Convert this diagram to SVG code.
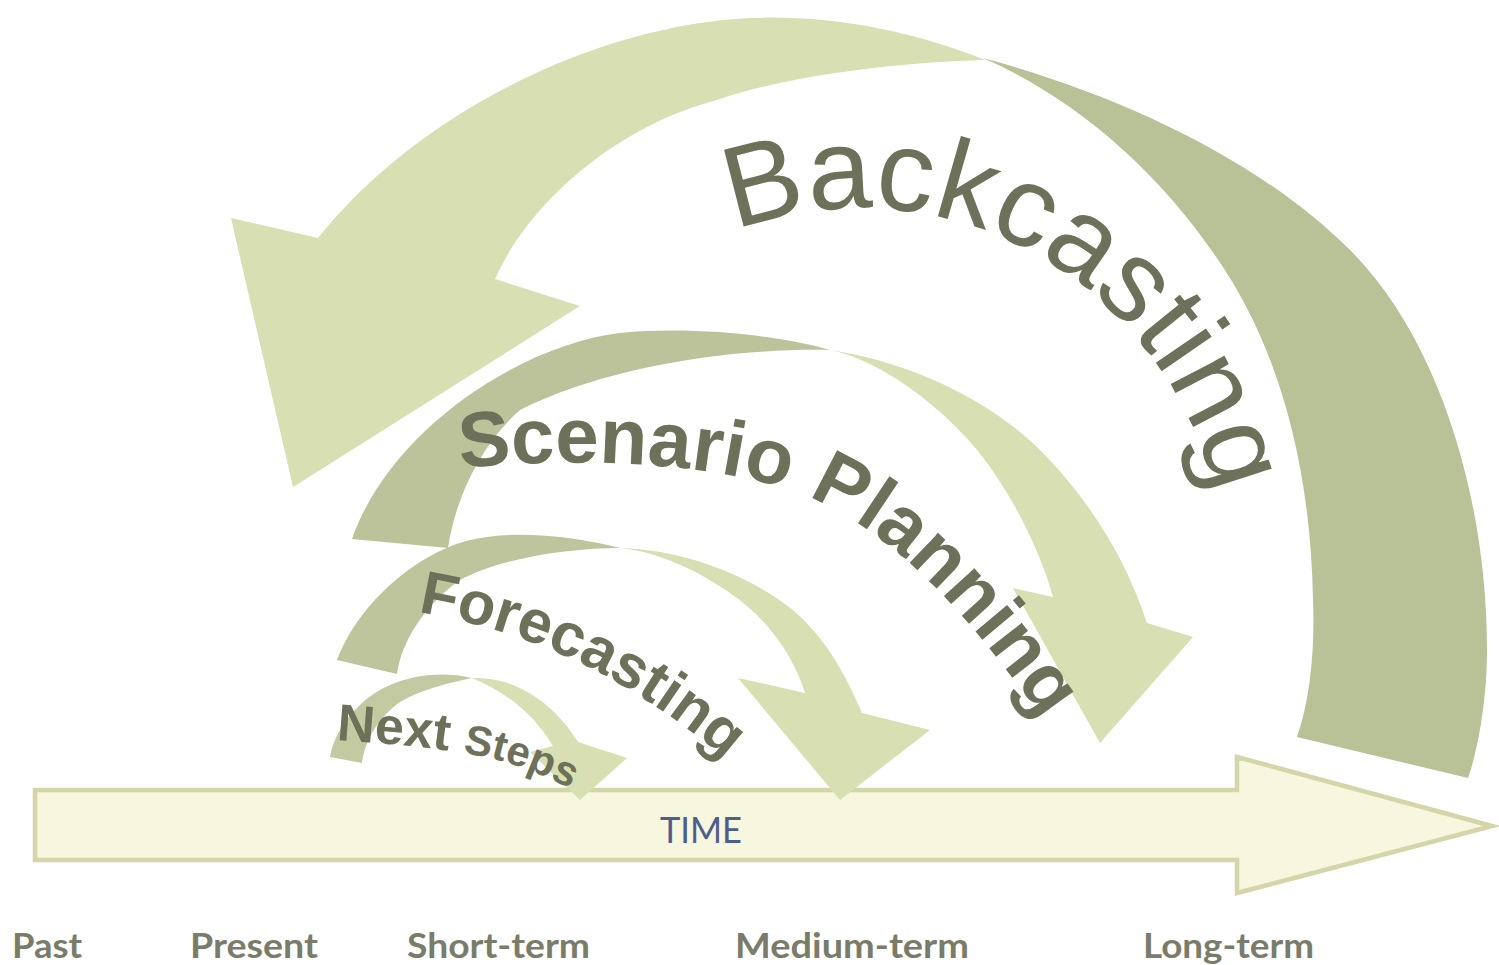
<svg xmlns="http://www.w3.org/2000/svg" width="1499" height="965" viewBox="0 0 1499 965">
<defs>
<style>
.face{fill:#d7dfb3}
.back{fill:#b9c197}
.lbl{font-family:"Lato","Open Sans","Liberation Sans",sans-serif;font-weight:700;fill:#7a7c6a;font-size:35px}
.arc{font-family:"Liberation Sans",Arial,sans-serif;fill:#6d7159}
.bold{font-weight:700}
</style>
<path id="p-back" d="M 735.2,230.6 A 365 374 0 0 1 1203,710"/>
<path id="p-scen" d="M 460,468 C 560,458 700,460 790,490 C 880,520 960,600 1050,730 L 1100,810"/>
<path id="p-fore" d="M 418,612 C 520,630 640,670 780,810 L 820,850"/>
<path id="p-next" d="M 336,740 C 390,744 440,748 480,756 C 520,764 560,780 610,812 L 650,840"/>
</defs>
<rect width="1499" height="965" fill="#ffffff"/>
<g id="time-axis">
<polygon points="35,790 1237,790 1237,757 1492,826 1237,893 1237,860 35,860" fill="#f7f6de" stroke="#d4d5a8" stroke-width="4.5"/>
<text x="660" y="843" font-family="Lato,'Open Sans','Liberation Sans',sans-serif" font-size="37" fill="#4e5d8d" textLength="82" lengthAdjust="spacingAndGlyphs">TIME</text>
</g>
<g id="connectors">
<g id="backcasting-arrow">
<path class="back" d="M 983,58 C 1120,95 1260,160 1350,250 C 1440,340 1487,500 1487,650 C 1487,700 1478,750 1468,778 L 1297,737 C 1310,700 1315,650 1313,600 C 1311,480 1285,370 1233,283 C 1170,180 1080,100 983,58 Z"/>
<path class="face" d="M 985,60 C 910,30 830,15 750,18 C 600,25 420,110 318,238 L 231,218 L 293,487 L 580,306 L 495,279 C 530,200 620,125 717,100 C 790,75 900,62 985,60 Z"/>
</g>
<g id="scenario-arrow">
<path style="fill:#bcc39b" d="M 830,350 C 780,335 690,326 620,333 C 520,345 390,430 352,539 L 448,548 C 455,500 480,445 520,410 C 600,370 720,348 830,350 Z"/>
<path class="face" d="M 830,350 C 910,362 990,400 1040,450 C 1085,495 1125,555 1147,623 L 1193,637 L 1100,743 L 1013,588 L 1053,597 C 1040,550 1010,490 977,450 C 940,405 880,360 830,350 Z"/>
</g>
<g id="forecasting-arrow">
<path style="fill:#bec59d" d="M 620,548 C 570,535 510,530 470,540 C 420,552 360,600 337,660 L 397,674 C 402,640 425,605 460,580 C 500,558 570,548 620,548 Z"/>
<path class="face" d="M 620,548 C 700,550 780,590 813,630 C 835,655 850,685 862,713 L 930,730 L 840,800 L 738,678 L 805,693 C 795,660 770,620 730,593 C 700,572 660,552 620,548 Z"/>
</g>
<g id="next-steps-arrow">
<path style="fill:#c3caa2" d="M 472,678 C 430,668 385,680 360,705 C 342,722 333,740 330,757 L 362,763 C 365,740 378,718 400,702 C 420,690 445,684 472,678 Z"/>
<path class="face" d="M 472,678 C 512,676 552,700 578,742 L 627,758 L 580,800 L 530,752 L 553,746 C 535,716 510,694 472,678 Z"/>
</g>
</g>
<g id="backcasting">
<text class="arc" font-size="115"><textPath href="#p-back">Backcasting</textPath></text>
</g>
<g id="scenario-planning">
<text class="arc bold" font-size="78"><textPath href="#p-scen">Scenario Planning</textPath></text>
</g>
<g id="forecasting">
<text class="arc bold" font-size="61"><textPath href="#p-fore">Forecasting</textPath></text>
</g>
<g id="next-steps">
<text class="arc bold" font-size="52"><textPath href="#p-next">Next <tspan font-size="42">Steps</tspan></textPath></text>
</g>
<g id="time-labels">
<text class="lbl" x="12" y="958" textLength="70" lengthAdjust="spacingAndGlyphs">Past</text>
<text class="lbl" x="190" y="958" textLength="128" lengthAdjust="spacingAndGlyphs">Present</text>
<text class="lbl" x="407" y="958" textLength="183" lengthAdjust="spacingAndGlyphs">Short-term</text>
<text class="lbl" x="735" y="958" textLength="234" lengthAdjust="spacingAndGlyphs">Medium-term</text>
<text class="lbl" x="1143" y="958" textLength="171" lengthAdjust="spacingAndGlyphs">Long-term</text>
</g>
</svg>
